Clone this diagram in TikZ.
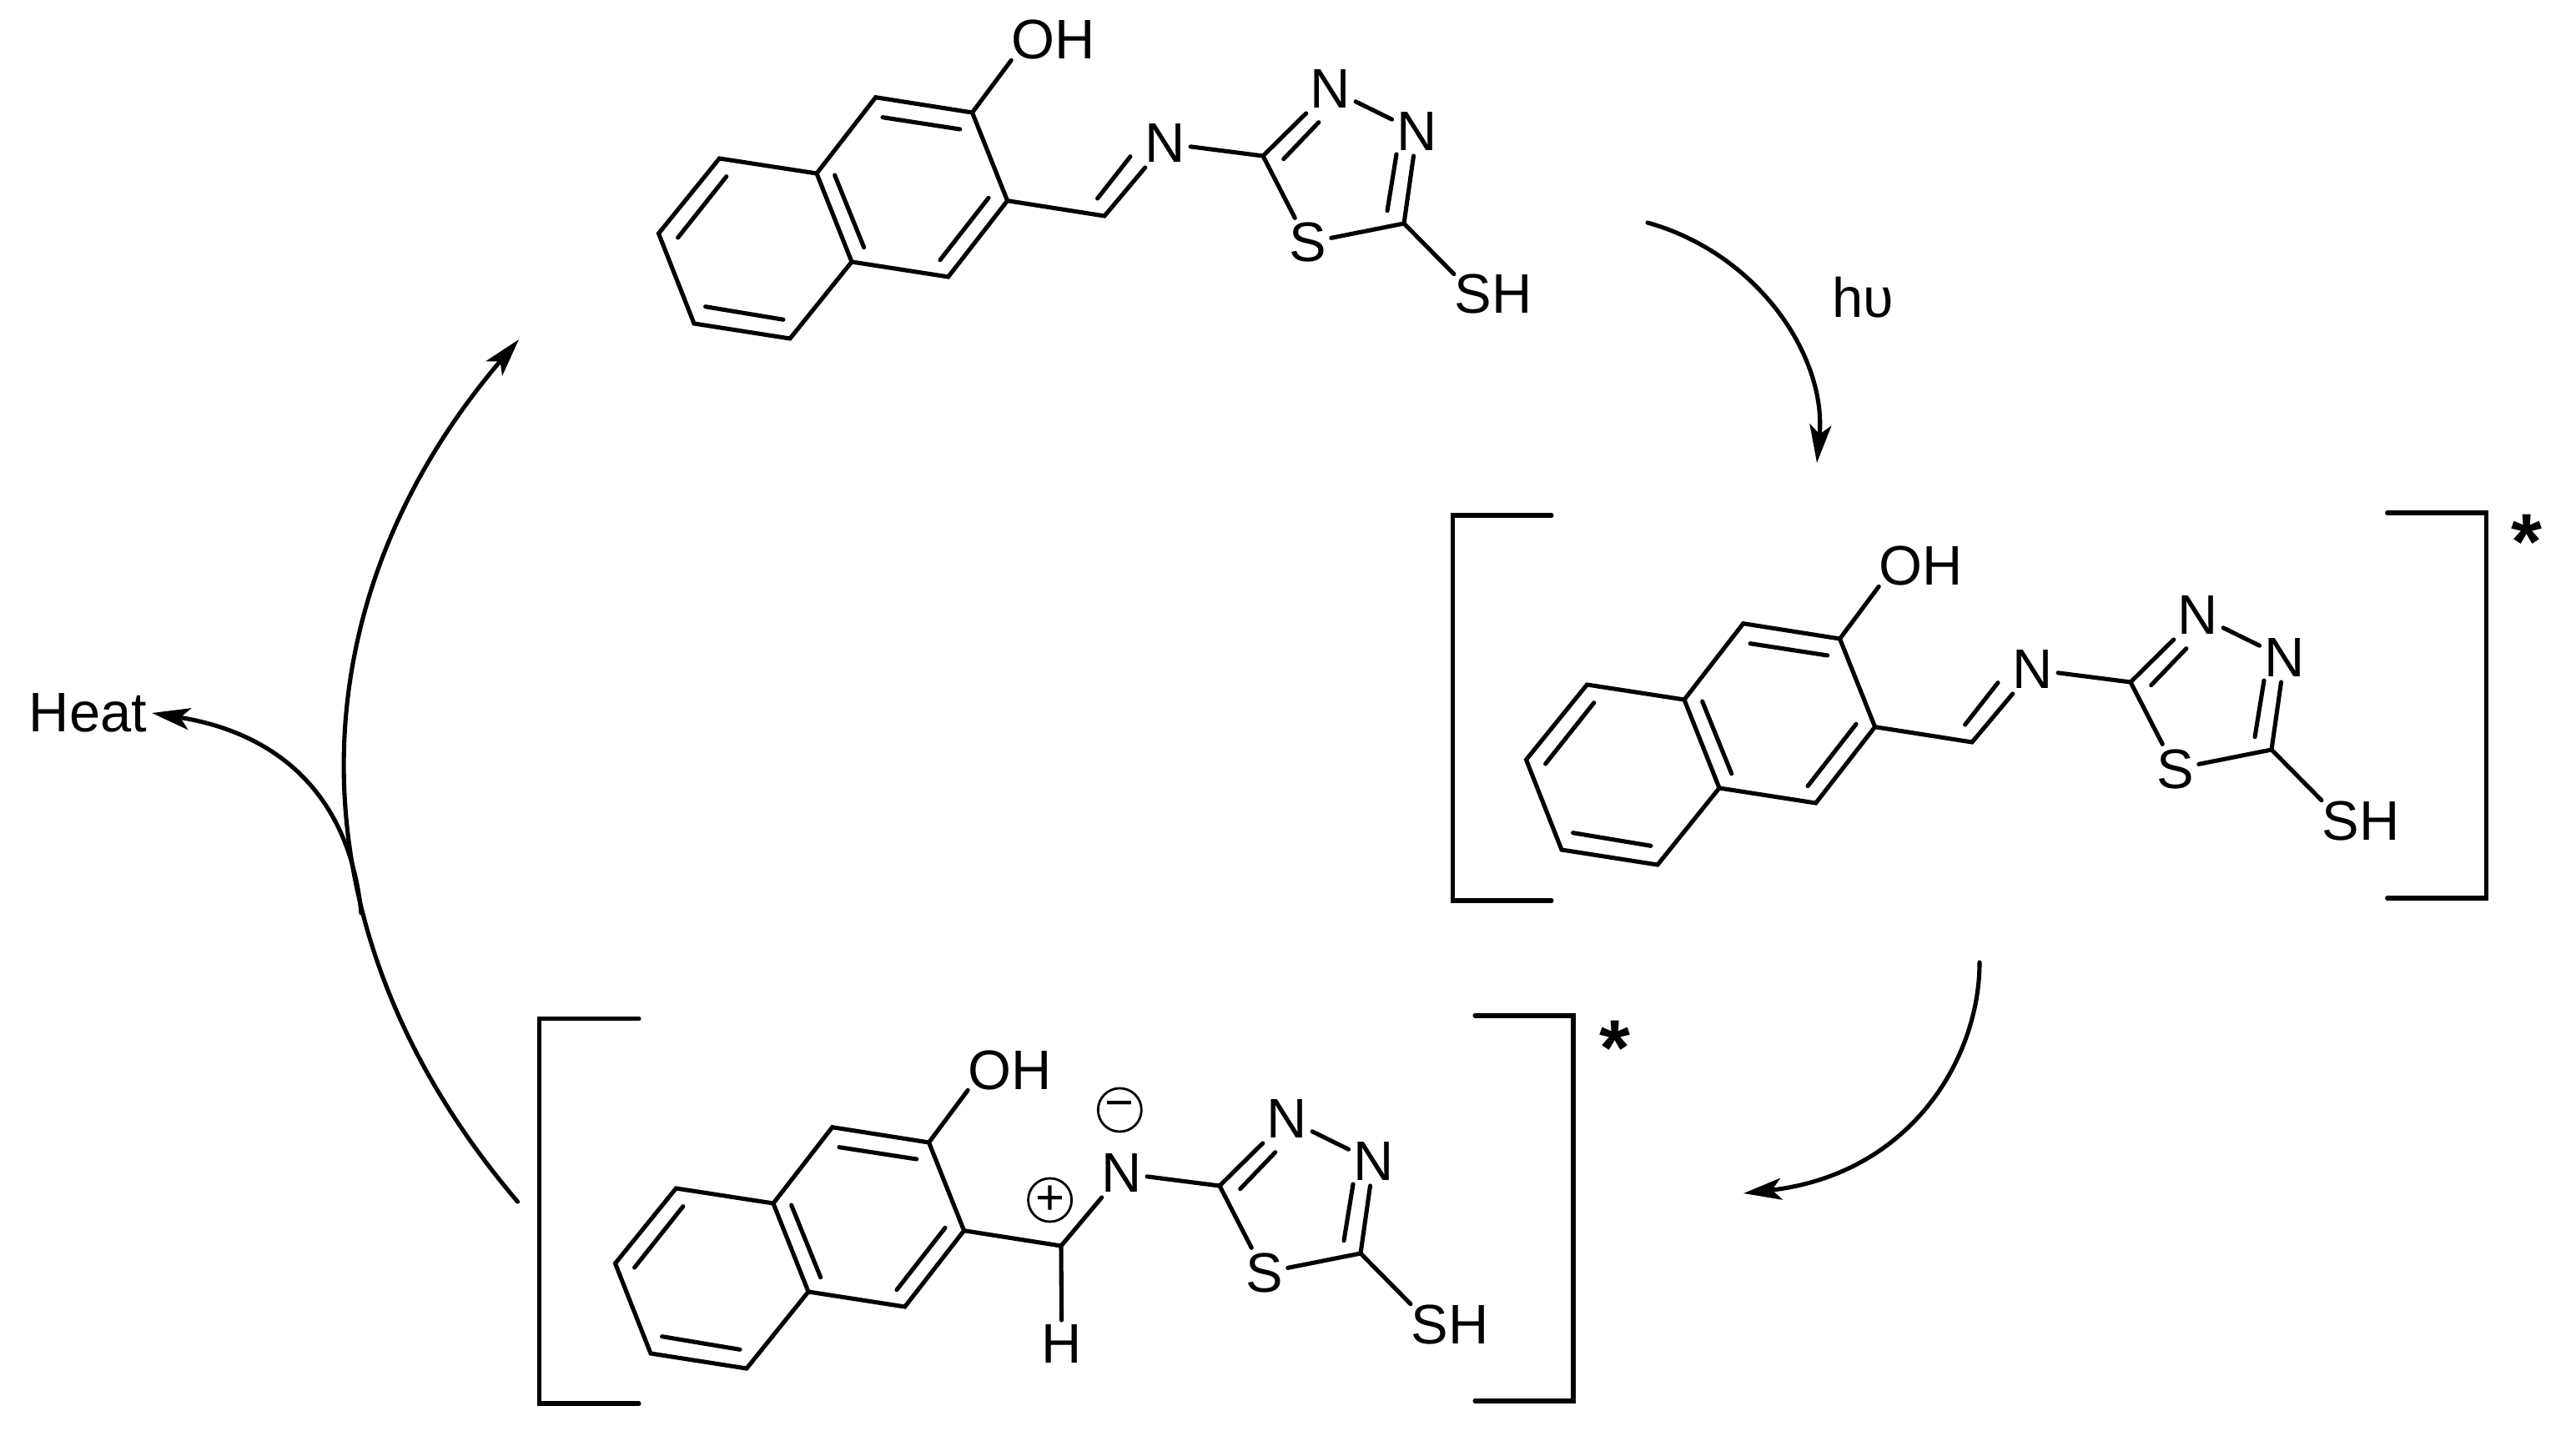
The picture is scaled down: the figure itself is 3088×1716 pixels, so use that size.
\documentclass[tikz,border=0pt]{standalone}
\usepackage{fontspec}
\setmainfont{Liberation Sans}
\usetikzlibrary{arrows.meta}

\begin{document}
\begin{tikzpicture}[x=0.01cm,y=-0.01cm,
    bond/.style={line width=1.45pt,line cap=round,line join=miter},
    curved/.style={line width=1.45pt,line cap=round,-{Stealth[length=13pt,width=7.4pt,inset=3.2pt]}},
    atom/.style={font=\fontsize{19}{19}\selectfont,inner sep=1.5pt},
    star/.style={font=\fontsize{27}{27}\selectfont\bfseries,inner sep=0pt},
    charge/.style={draw,circle,line width=0.8pt,minimum size=14.8pt,inner sep=0pt,font=\fontsize{17}{17}\selectfont}]

\useasboundingbox (0,0) rectangle (3088,1716);

% the three molecules
\foreach \m/\dx/\dy in {top/0/0,excited/1040/631,charged/-52/1235} {
\begin{scope}[shift={(\dx,\dy)},name prefix=\m-]

\foreach \i/\x/\y in {1/1165.5/135,2/1049.7/116.7,3/979/208,4/862.4/190,5/789.5/280,6/832/388,7/947/406,8/1021/314,9/1136.7/332,10/1207.6/240.7,11/1324/259,12/1514/187,13/1683/268}
    \coordinate (\i) at (\x,\y);

\node [atom,inner sep=0pt] (OH) at (1263,48) {OH};
\node [atom,inner sep=0pt] (SH) at (1790,353) {SH};
\node [atom] (N) at (1397,172) {N};
\node [atom] (Na) at (1595,107) {N};
\node [atom] (Nb) at (1698.6,158) {N};
\node [atom] (S) at (1567.5,291) {S};

\draw [bond] (1) -- (2) -- (3) -- (4) -- (5) -- (6) -- (7) -- (8) -- (9) -- (10) -- cycle;
\draw [bond] (3) -- (8);
\draw [bond] (1) -- (OH.south west);
\draw [bond] (10) -- (11) -- (N) -- (12) -- (Na) -- (Nb) -- (13) -- (S) -- (12);
\draw [bond] (13) -- (SH.north west);

% inner strokes of the double bonds
\foreach \i/\ax/\ay/\bx/\by in {1/1058/140.7/1150.7/155,2/1000.6/210/1035.7/296.7,3/870.8/211.7/812.6/285,4/845.6/367.7/939/383.3,5/1185/237.3/1127/311.7,6/1538.7/190.7/1580.8/146.7,7/1674/185/1663/252.7} {
    \coordinate (p\i) at (\ax,\ay);
    \coordinate (q\i) at (\bx,\by);
    \draw [bond] (p\i) -- (q\i);
}
\end{scope}
}

% imine double bond, not in the charged form
\foreach \m/\dx/\dy in {top/0/0,excited/1040/631} {
\begin{scope}[shift={(\dx,\dy)},name prefix=\m-]
\coordinate (p8) at (1315.6,238);
\coordinate (q8) at (1355,187.7);
\draw [bond] (p8) -- (q8);
\end{scope}
}

% charged form
\node [atom] (H) at (1272.7,1612) {H};
\draw [bond] (charged-11) -- (H);
\node [charge] (plus) at (1258.6,1439) {+};
\node [charge] (minus) at (1342.3,1331) {−};

% brackets
\coordinate (e1) at (1860,618);
\coordinate (e2) at (1741.4,618);
\coordinate (e3) at (1741.4,1080);
\coordinate (e4) at (1860,1080);
\coordinate (e5) at (2861.6,615);
\coordinate (e6) at (2980.5,615);
\coordinate (e7) at (2980.5,1077);
\coordinate (e8) at (2861.6,1077);
\coordinate (c1) at (766,1221.7);
\coordinate (c2) at (646.6,1221.7);
\coordinate (c3) at (646.6,1683);
\coordinate (c4) at (766,1683);
\coordinate (c5) at (1768,1218);
\coordinate (c6) at (1886,1218);
\coordinate (c7) at (1886,1680);
\coordinate (c8) at (1768,1680);
\draw [bond] (e1) -- (e2) -- (e3) -- (e4);
\draw [bond] (e5) -- (e6) -- (e7) -- (e8);
\draw [bond] (c1) -- (c2) -- (c3) -- (c4);
\draw [bond] (c5) -- (c6) -- (c7) -- (c8);

\node [star] (stare) at (3029,650) {*};
\node [star] (starc) at (1936,1257) {*};

% arrows of the cycle
\node [atom] (hv) at (2233,357) {hυ};
\node [atom] (heat) at (105.5,855) {Heat};

\coordinate (s1) at (1975,267);
\coordinate (t1) at (2178,555);
\coordinate (s2) at (2373,1154);
\coordinate (t2) at (2090,1431);
\coordinate (s3) at (620.5,1441);
\coordinate (t3) at (622,407);
\coordinate (s4) at (433,1095);

\draw [curved] (s1) .. controls (2110,305) and (2190,430) .. (t1);
\draw [curved] (s2) .. controls (2373,1270) and (2290,1408) .. (t2);
\draw [curved] (s3) .. controls (346,1119) and (346,730) .. (t3);
\draw [curved] (s4) .. controls (420,960) and (340,880) .. (heat.east);

\end{tikzpicture}
\end{document}
